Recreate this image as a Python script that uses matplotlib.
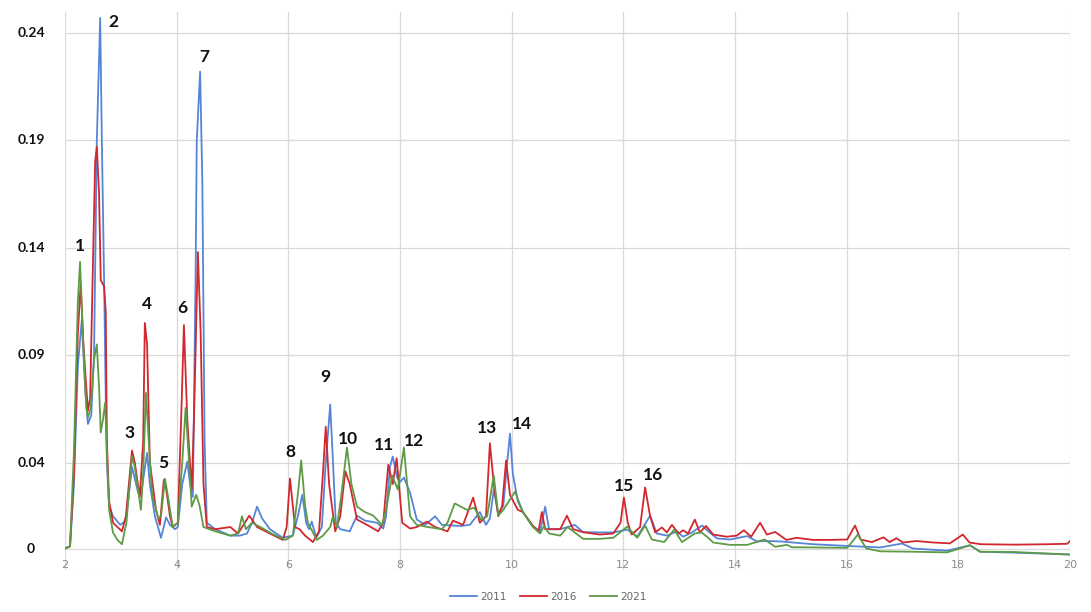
import matplotlib
matplotlib.use("Agg")
import matplotlib.pyplot as plt
from matplotlib.lines import Line2D
from matplotlib.transforms import blended_transform_factory

# Retention time (min) vs. absorbance, one trace per sampling year
trace_2011 = [
    (2.00, 0.000), (2.09, 0.001), (2.16, 0.030), (2.23, 0.085), (2.30, 0.106), (2.36, 0.075),
    (2.41, 0.058), (2.47, 0.062), (2.52, 0.090), (2.57, 0.190), (2.63, 0.247), (2.66, 0.190),
    (2.70, 0.125), (2.73, 0.070), (2.75, 0.040), (2.79, 0.020), (2.86, 0.015), (2.99, 0.011),
    (3.09, 0.013), (3.20, 0.038), (3.31, 0.026), (3.36, 0.025), (3.47, 0.0445), (3.52, 0.030),
    (3.61, 0.015), (3.72, 0.005), (3.81, 0.0145), (3.88, 0.011), (3.97, 0.009), (4.02, 0.010),
    (4.10, 0.030), (4.19, 0.0405), (4.24, 0.030), (4.29, 0.024), (4.34, 0.130), (4.36, 0.190),
    (4.42, 0.222), (4.46, 0.170), (4.50, 0.050), (4.54, 0.012), (4.69, 0.009), (4.96, 0.006),
    (5.13, 0.006), (5.26, 0.007), (5.35, 0.012), (5.44, 0.0195), (5.53, 0.014), (5.67, 0.009),
    (5.90, 0.005), (6.08, 0.006), (6.17, 0.015), (6.25, 0.025), (6.32, 0.012), (6.37, 0.009),
    (6.42, 0.0125), (6.50, 0.005), (6.60, 0.010), (6.67, 0.040), (6.75, 0.067), (6.80, 0.040),
    (6.85, 0.012), (6.93, 0.009), (7.10, 0.008), (7.23, 0.0153), (7.37, 0.013), (7.59, 0.012),
    (7.70, 0.0093), (7.75, 0.015), (7.82, 0.038), (7.87, 0.0428), (7.95, 0.033), (8.00, 0.031),
    (8.07, 0.033), (8.18, 0.026), (8.30, 0.0135), (8.45, 0.011), (8.63, 0.015), (8.75, 0.011),
    (9.08, 0.0105), (9.25, 0.011), (9.43, 0.017), (9.54, 0.011), (9.61, 0.014), (9.68, 0.0275),
    (9.76, 0.016), (9.85, 0.020), (9.92, 0.040), (9.97, 0.0535), (10.02, 0.035), (10.11, 0.022),
    (10.20, 0.017), (10.38, 0.0105), (10.51, 0.008), (10.60, 0.0195), (10.67, 0.009),
    (10.87, 0.009), (11.13, 0.011), (11.28, 0.0076), (11.58, 0.0075), (11.82, 0.0075),
    (12.07, 0.0088), (12.25, 0.0055), (12.48, 0.0153), (12.60, 0.007), (12.78, 0.006),
    (12.96, 0.008), (13.07, 0.0055), (13.23, 0.0075), (13.41, 0.0107), (13.52, 0.008),
    (13.68, 0.0047), (13.91, 0.0042), (14.22, 0.0058), (14.39, 0.0033), (14.57, 0.0035),
    (14.81, 0.0033), (15.40, 0.002), (16.01, 0.0012), (16.60, 0.0005), (16.99, 0.0023),
    (17.19, 0.000), (17.80, -0.001), (18.21, 0.0015), (18.39, -0.0015), (18.98, -0.0019),
    (20.00, -0.0028),
]

trace_2016 = [
    (2.00, 0.000), (2.09, 0.001), (2.16, 0.035), (2.23, 0.100), (2.28, 0.123), (2.33, 0.095),
    (2.41, 0.064), (2.45, 0.070), (2.49, 0.120), (2.54, 0.180), (2.57, 0.187), (2.61, 0.165),
    (2.64, 0.125), (2.70, 0.122), (2.73, 0.110), (2.75, 0.050), (2.79, 0.022), (2.86, 0.012),
    (3.02, 0.008), (3.09, 0.015), (3.20, 0.0456), (3.25, 0.040), (3.34, 0.024), (3.40, 0.050),
    (3.43, 0.105), (3.47, 0.095), (3.52, 0.040), (3.63, 0.018), (3.70, 0.011), (3.77, 0.032),
    (3.81, 0.028), (3.88, 0.015), (3.93, 0.010), (4.02, 0.012), (4.08, 0.060), (4.13, 0.104),
    (4.19, 0.060), (4.27, 0.0275), (4.31, 0.060), (4.38, 0.138), (4.43, 0.100), (4.48, 0.030),
    (4.54, 0.010), (4.69, 0.009), (4.96, 0.010), (5.10, 0.007), (5.30, 0.0153), (5.44, 0.010),
    (5.67, 0.007), (5.90, 0.004), (5.97, 0.010), (6.03, 0.0326), (6.12, 0.010), (6.20, 0.009),
    (6.30, 0.006), (6.44, 0.003), (6.55, 0.008), (6.62, 0.035), (6.67, 0.0567), (6.73, 0.030),
    (6.84, 0.008), (6.93, 0.015), (7.02, 0.036), (7.10, 0.030), (7.23, 0.0135), (7.41, 0.011),
    (7.61, 0.008), (7.70, 0.012), (7.79, 0.039), (7.87, 0.030), (7.94, 0.042), (8.04, 0.012),
    (8.18, 0.0093), (8.30, 0.010), (8.48, 0.0125), (8.63, 0.010), (8.85, 0.008), (8.95, 0.013),
    (9.13, 0.011), (9.31, 0.0237), (9.43, 0.012), (9.54, 0.015), (9.61, 0.049), (9.68, 0.030),
    (9.76, 0.015), (9.83, 0.020), (9.90, 0.041), (9.97, 0.025), (10.11, 0.018), (10.20, 0.017),
    (10.38, 0.0105), (10.48, 0.008), (10.54, 0.017), (10.60, 0.009), (10.87, 0.009),
    (10.99, 0.0153), (11.10, 0.009), (11.28, 0.0076), (11.58, 0.0065), (11.82, 0.007),
    (11.95, 0.012), (12.01, 0.0237), (12.08, 0.012), (12.15, 0.0065), (12.30, 0.010),
    (12.39, 0.0284), (12.48, 0.015), (12.57, 0.0075), (12.69, 0.0098), (12.78, 0.0075),
    (12.87, 0.011), (12.99, 0.007), (13.07, 0.0085), (13.16, 0.007), (13.28, 0.0135),
    (13.37, 0.0075), (13.48, 0.0105), (13.61, 0.0065), (13.85, 0.0055), (14.03, 0.006),
    (14.16, 0.0085), (14.29, 0.0055), (14.45, 0.012), (14.57, 0.0065), (14.72, 0.0077),
    (14.92, 0.004), (15.10, 0.005), (15.40, 0.004), (15.70, 0.004), (16.01, 0.0042),
    (16.15, 0.0107), (16.25, 0.0042), (16.45, 0.003), (16.66, 0.0052), (16.77, 0.003),
    (16.89, 0.0048), (17.01, 0.0028), (17.25, 0.0035), (17.55, 0.0028), (17.85, 0.0024),
    (18.08, 0.0065), (18.20, 0.0028), (18.40, 0.002), (19.00, 0.0018), (19.60, 0.002),
    (19.95, 0.0022), (20.00, 0.0035),
]

trace_2021 = [
    (2.00, 0.000), (2.09, 0.001), (2.16, 0.045), (2.23, 0.115), (2.27, 0.1335), (2.32, 0.100),
    (2.38, 0.066), (2.41, 0.061), (2.46, 0.065), (2.52, 0.088), (2.57, 0.095), (2.61, 0.075),
    (2.64, 0.054), (2.68, 0.060), (2.72, 0.068), (2.75, 0.045), (2.79, 0.018), (2.86, 0.0074),
    (2.94, 0.004), (3.02, 0.002), (3.10, 0.012), (3.20, 0.043), (3.25, 0.038), (3.36, 0.018),
    (3.40, 0.035), (3.45, 0.0725), (3.50, 0.050), (3.56, 0.025), (3.67, 0.014), (3.72, 0.015),
    (3.79, 0.0325), (3.84, 0.025), (3.93, 0.010), (4.02, 0.012), (4.10, 0.040), (4.16, 0.0655),
    (4.21, 0.045), (4.27, 0.0195), (4.35, 0.025), (4.41, 0.020), (4.48, 0.010), (4.69, 0.008),
    (4.96, 0.006), (5.10, 0.007), (5.17, 0.015), (5.24, 0.009), (5.35, 0.012), (5.50, 0.010),
    (5.70, 0.007), (5.95, 0.004), (6.08, 0.006), (6.17, 0.025), (6.23, 0.041), (6.30, 0.020),
    (6.35, 0.012), (6.51, 0.004), (6.62, 0.006), (6.75, 0.010), (6.80, 0.015), (6.87, 0.010),
    (6.95, 0.025), (7.05, 0.047), (7.13, 0.030), (7.23, 0.0195), (7.37, 0.017), (7.52, 0.0153),
    (7.68, 0.011), (7.75, 0.018), (7.86, 0.034), (7.96, 0.0275), (8.07, 0.047), (8.18, 0.015),
    (8.30, 0.011), (8.50, 0.010), (8.75, 0.009), (8.85, 0.012), (8.98, 0.021), (9.20, 0.018),
    (9.33, 0.019), (9.45, 0.0135), (9.56, 0.015), (9.68, 0.034), (9.76, 0.0153), (9.85, 0.018),
    (9.95, 0.022), (10.06, 0.0265), (10.20, 0.017), (10.38, 0.010), (10.51, 0.007),
    (10.58, 0.0105), (10.67, 0.007), (10.87, 0.006), (11.00, 0.010), (11.28, 0.0045),
    (11.58, 0.0045), (11.82, 0.005), (12.07, 0.0102), (12.25, 0.005), (12.39, 0.0107),
    (12.51, 0.0042), (12.73, 0.003), (12.91, 0.0088), (13.05, 0.003), (13.28, 0.007),
    (13.40, 0.0075), (13.52, 0.005), (13.61, 0.0028), (13.91, 0.0017), (14.22, 0.0017),
    (14.53, 0.0042), (14.72, 0.0008), (14.93, 0.0017), (15.02, 0.0006), (15.40, 0.0005),
    (16.01, 0.0003), (16.20, 0.0065), (16.35, 0.000), (16.60, -0.0013), (17.19, -0.0015),
    (17.80, -0.0018), (18.21, 0.0015), (18.39, -0.0015), (18.98, -0.0016), (20.00, -0.0028),
]

years = ["2011", "2016", "2021"]
traces = [trace_2011, trace_2016, trace_2021]
colors = ["#5585D6", "#D2272E", "#5E9B47"]

# Numbered peak labels: (number, retention time, label height)
peak_labels = [
    ("1", 2.27, 0.141), ("2", 2.86, 0.245), ("3", 3.16, 0.054), ("4", 3.47, 0.114),
    ("5", 3.76, 0.040), ("6", 4.10, 0.112), ("7", 4.49, 0.229), ("8", 6.03, 0.045),
    ("9", 6.67, 0.080), ("10", 7.07, 0.051), ("11", 7.71, 0.048), ("12", 8.25, 0.050),
    ("13", 9.56, 0.056), ("14", 10.19, 0.058), ("15", 12.01, 0.029), ("16", 12.53, 0.034),
]

y_levels = [0, 0.04, 0.09, 0.14, 0.19, 0.24]
y_level_text = ["0", "0.04", "0.09", "0.14", "0.19", "0.24"]
x_ticks = [2, 4, 6, 8, 10, 12, 14, 16, 18, 20]

W, H = 1091, 612
fig = plt.figure(figsize=(W / 100, H / 100), dpi=100)
fig.patch.set_facecolor("white")
ax = fig.add_axes([65 / W, 42 / H, 1005 / W, 558.5 / H])
ax.set_xlim(2, 20)
ax.set_ylim(-0.01, 0.25)

grid_color = "#D9D9D9"
for y in [-0.01] + y_levels:
    ax.axhline(y, color=grid_color, lw=0.9, zorder=0)
for x in x_ticks:
    ax.axvline(x, color=grid_color, lw=0.9, zorder=0)

for spine in ax.spines.values():
    spine.set_visible(False)
ax.spines["bottom"].set_position(("data", 0))
ax.set_xticks(x_ticks)
ax.set_xticklabels([str(v) for v in x_ticks])
ax.tick_params(axis="x", length=0, pad=8.5, labelsize=8, labelcolor="#8C8C8C")
ax.set_yticks([])

for trace, color in zip(traces, colors):
    xs = [p[0] for p in trace]
    ys = [p[1] for p in trace]
    ax.plot(xs, ys, color=color, lw=1.3, solid_joinstyle="round", zorder=3)

label_font = ["Lato", "DejaVu Sans"]
for text, x, y in peak_labels:
    ax.text(x, y, text, ha="center", va="center", fontsize=12.5, fontweight="bold",
            family=label_font, color="#111111", zorder=5)

ytrans = blended_transform_factory(fig.transFigure, ax.transData)
for y, txt in zip(y_levels, y_level_text):
    ax.text(31 / W, y, txt, transform=ytrans, ha="center", va="center", fontsize=10,
            fontweight="bold", family=label_font, color="#111111")

handles = [Line2D([], [], color=c, lw=1.3) for c in colors]
leg = fig.legend(handles, years, loc="center", bbox_to_anchor=(548 / W, 1 - 597 / H), ncol=3,
                 frameon=False, fontsize=7.5, handlelength=2.6, handletextpad=0.3,
                 columnspacing=1.3)
for t in leg.get_texts():
    t.set_color("#666666")

fig.savefig("out.png", dpi=100, facecolor="white")
